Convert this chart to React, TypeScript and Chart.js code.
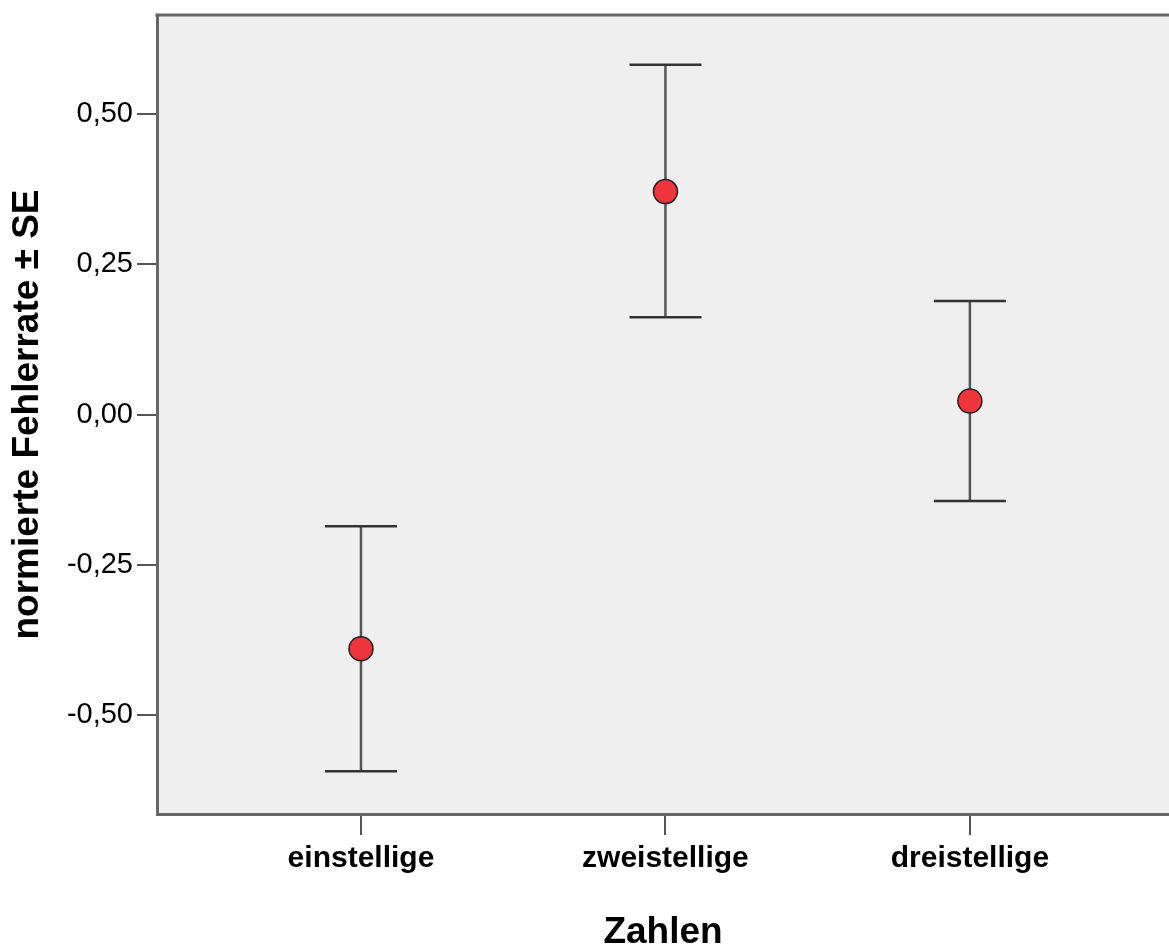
import React, { useEffect, useRef } from "react";
import { Chart, registerables } from "chart.js";

Chart.register(...registerables);

const categories = ["einstellige", "zweistellige", "dreistellige"];
const means = [-0.39, 0.371, 0.0225];
const upperSE = [-0.186, 0.582, 0.189];
const lowerSE = [-0.594, 0.162, -0.144];
const yTickValues = [-0.5, -0.25, 0, 0.25, 0.5];
const yTitle = "normierte Fehlerrate ± SE";
const xTitle = "Zahlen";

const FONT = "'Liberation Sans', Arial, sans-serif";

const plotFrame = {
  id: "plotFrame",
  beforeDraw(chart: any) {
    const { ctx, chartArea } = chart;
    ctx.save();
    ctx.fillStyle = "#efefef";
    ctx.fillRect(chartArea.left, chartArea.top, chartArea.right - chartArea.left, chartArea.bottom - chartArea.top);
    ctx.restore();
  },
  afterDraw(chart: any) {
    const { ctx, chartArea } = chart;
    ctx.save();
    ctx.strokeStyle = "#666";
    ctx.lineWidth = 3;
    ctx.beginPath();
    ctx.moveTo(chartArea.left - 1.5, chartArea.top);
    ctx.lineTo(chartArea.right, chartArea.top);
    ctx.stroke();
    ctx.restore();
  },
};

const errorBars = {
  id: "errorBars",
  beforeDatasetsDraw(chart: any) {
    const { ctx } = chart;
    const xs = chart.scales.x;
    const ys = chart.scales.y;
    ctx.save();
    for (let i = 0; i < categories.length; i++) {
      const x = xs.getPixelForValue(i);
      const yu = ys.getPixelForValue(upperSE[i]);
      const yl = ys.getPixelForValue(lowerSE[i]);
      ctx.strokeStyle = "#555";
      ctx.lineWidth = 2.5;
      ctx.beginPath();
      ctx.moveTo(x, yu);
      ctx.lineTo(x, yl);
      ctx.stroke();
      ctx.strokeStyle = "#333";
      ctx.lineWidth = 2.5;
      ctx.beginPath();
      ctx.moveTo(x - 36, yu);
      ctx.lineTo(x + 36, yu);
      ctx.moveTo(x - 36, yl);
      ctx.lineTo(x + 36, yl);
      ctx.stroke();
    }
    ctx.restore();
  },
};

export default function App() {
  const ref = useRef<HTMLCanvasElement | null>(null);
  useEffect(() => {
    document.body.style.margin = "0";
    if (!ref.current) return;
    Chart.defaults.font.family = FONT;
    const chart = new Chart(ref.current, {
      type: "scatter",
      data: {
        datasets: [
          {
            data: means.map((m, i) => ({ x: i, y: m })),
            pointRadius: 12,
            pointHoverRadius: 12,
            backgroundColor: "#ef353c",
            borderColor: "#222",
            borderWidth: 1.5,
            showLine: false,
          },
        ],
      },
      options: {
        responsive: false,
        animation: false,
        layout: { autoPadding: false, padding: { top: 15, right: 0, left: 0, bottom: 0 } },
        plugins: { legend: { display: false }, tooltip: { enabled: false } },
        scales: {
          x: {
            type: "linear",
            min: -0.67,
            max: 2.654,
            afterBuildTicks: (scale: any) => {
              scale.ticks = categories.map((_, i) => ({ value: i }));
            },
            afterFit: (scale: any) => {
              scale.height = 134;
              scale.paddingLeft = 0;
              scale.paddingRight = 0;
            },
            ticks: {
              callback: (v: any) => categories[v as number],
              color: "#000",
              font: { size: 30, weight: "bold", family: FONT },
              padding: 6,
              maxRotation: 0,
              autoSkip: false,
            },
            grid: { drawOnChartArea: false, drawTicks: true, tickLength: 21, color: "#555", lineWidth: 2 },
            border: { display: true, color: "#666", width: 3 },
            title: {
              display: true,
              text: xTitle,
              color: "#000",
              font: { size: 37, weight: "bold", family: FONT, lineHeight: 1 },
              padding: { top: 0, bottom: -3 },
            },
          },
          y: {
            type: "linear",
            min: -0.665,
            max: 0.665,
            afterBuildTicks: (scale: any) => {
              scale.ticks = yTickValues.map((v) => ({ value: v }));
            },
            afterFit: (scale: any) => {
              scale.width = 157;
              scale.paddingTop = 0;
              scale.paddingBottom = 0;
            },
            ticks: {
              callback: (v: any) => (v as number).toFixed(2).replace(".", ","),
              color: "#000",
              font: { size: 29, family: FONT },
              padding: 4,
            },
            grid: { drawOnChartArea: false, drawTicks: true, tickLength: 20, color: "#555", lineWidth: 2 },
            border: { display: true, color: "#666", width: 3 },
            title: {
              display: true,
              text: yTitle,
              color: "#000",
              font: { size: 37, weight: "bold", family: FONT },
              padding: { top: 6, bottom: 0 },
            },
          },
        },
      },
      plugins: [plotFrame, errorBars],
    });
    return () => chart.destroy();
  }, []);
  return (
    <div>
      <canvas ref={ref} width={1169} height={948} style={{ display: "block" }} />
    </div>
  );
}
